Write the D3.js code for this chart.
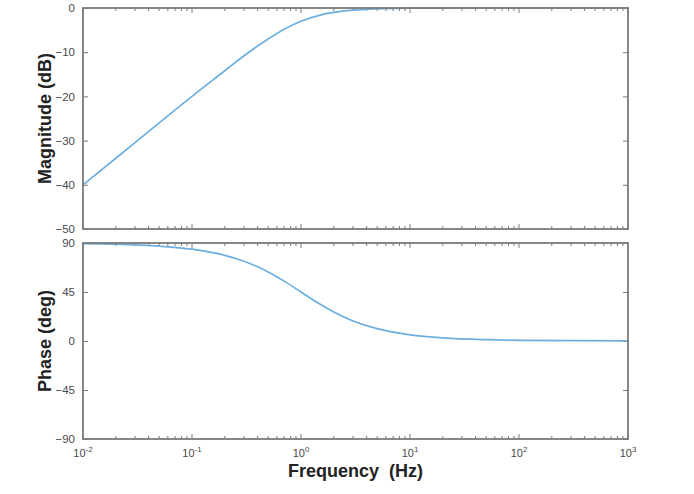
<!DOCTYPE html>
<html>
<head>
<meta charset="utf-8">
<script src="https://cdn.jsdelivr.net/npm/d3@7"></script>
<style>
  body { margin: 0; background: #fff; }
  svg { display: block; font-family: Helvetica, "Liberation Sans", Arial, sans-serif; }
  .tick text { fill: #4a4a4a; font-size: 11.5px; }
</style>
</head>
<body>
<div id="chart"></div>
<script>
// Bode plot, first-order high-pass
const freqs = [0.01, 0.02, 0.05, 0.1, 0.2, 0.3, 0.5, 0.7, 1, 1.5, 2, 3, 5, 7, 10, 20, 50, 100, 1000];
const magDb = [-40.0, -34.0, -26.0, -20.0, -14.2, -10.8, -7.0, -4.8, -3.0, -1.6, -1.0, -0.5, -0.2, -0.1, -0.04, -0.01, 0, 0, 0];
const phaseDeg = [89.4, 88.9, 87.1, 84.3, 78.7, 73.3, 63.4, 55.0, 45.0, 33.7, 26.6, 18.4, 11.3, 8.1, 5.7, 2.9, 1.2, 0.6, 0.1];
const magTicks = [0, -10, -20, -30, -40, -50];
const phaseTicks = [90, 45, 0, -45, -90];
const decades = [-2, -1, 0, 1, 2, 3];

const W = 694, H = 494;
const left = 83, right = 628;
const panels = [
  { top: 8, bottom: 229, domain: [-50, 0], ticks: magTicks, values: magDb, label: "Magnitude (dB)" },
  { top: 243, bottom: 439, domain: [-90, 90], ticks: phaseTicks, values: phaseDeg, label: "Phase (deg)" }
];

const svg = d3.select("#chart").append("svg").attr("width", W).attr("height", H);
const x = d3.scaleLog().domain([1e-2, 1e3]).range([left, right]);

// minor tick positions: 2..9 within each decade
const minor = [];
decades.slice(0, -1).forEach(e => { for (let k = 2; k <= 9; k++) minor.push(k * Math.pow(10, e)); });
const major = decades.map(e => Math.pow(10, e));

const axisColor = "#7a7a7a";

panels.forEach((p, i) => {
  const y = d3.scaleLinear().domain(p.domain).range([p.bottom, p.top]);
  const g = svg.append("g");

  // y ticks left (with labels) and right
  g.append("g").attr("transform", `translate(${left},0)`)
    .call(d3.axisLeft(y).tickValues(p.ticks).tickSize(-5).tickPadding(8).tickFormat(d3.format("d")))
    .call(a => a.select(".domain").remove())
    .call(a => a.selectAll(".tick line").attr("stroke", axisColor));
  g.append("g").attr("transform", `translate(${right},0)`)
    .call(d3.axisRight(y).tickValues(p.ticks).tickSize(-5).tickFormat(""))
    .call(a => a.select(".domain").remove())
    .call(a => a.selectAll(".tick line").attr("stroke", axisColor));

  // x ticks top & bottom, inward
  [[p.bottom, -1], [p.top, 1]].forEach(([yy, dir]) => {
    const ax = g.append("g");
    ax.selectAll("line.maj").data(major).join("line")
      .attr("x1", d => x(d)).attr("x2", d => x(d))
      .attr("y1", yy).attr("y2", yy + dir * 5)
      .attr("stroke", axisColor);
    ax.selectAll("line.min").data(minor).join("line")
      .attr("x1", d => x(d)).attr("x2", d => x(d))
      .attr("y1", yy).attr("y2", yy + dir * 3)
      .attr("stroke", axisColor);
  });

  // curve
  const line = d3.line()
    .x((d, j) => x(freqs[j]))
    .y(d => y(d))
    .curve(d3.curveMonotoneX);
  g.append("path").datum(p.values)
    .attr("fill", "none").attr("stroke", "#6cafe0").attr("stroke-width", 1.7)
    .attr("d", line);

  // frame
  g.append("rect")
    .attr("x", left).attr("y", p.top)
    .attr("width", right - left).attr("height", p.bottom - p.top)
    .attr("fill", "none").attr("stroke", axisColor).attr("stroke-width", 1.8);

  // y label
  svg.append("text")
    .attr("transform", `translate(51,${(p.top + p.bottom) / 2}) rotate(-90)`)
    .attr("text-anchor", "middle")
    .attr("font-size", 18).attr("font-weight", "bold").attr("fill", "#222")
    .text(p.label);
});

// x tick labels 10^n on bottom panel
const xl = svg.append("g").attr("fill", "#4a4a4a").attr("font-size", 11);
decades.forEach(e => {
  const t = xl.append("text").attr("x", x(Math.pow(10, e))).attr("y", 457).attr("text-anchor", "middle");
  t.append("tspan").text("10");
  t.append("tspan").attr("dy", -5).attr("font-size", 8).text(e);
});

svg.append("text")
  .attr("x", (left + right) / 2).attr("y", 477)
  .attr("text-anchor", "middle")
  .attr("font-size", 18).attr("font-weight", "bold").attr("fill", "#222")
  .attr("xml:space", "preserve").style("white-space", "pre")
  .text("Frequency  (Hz)");
</script>
</body>
</html>
